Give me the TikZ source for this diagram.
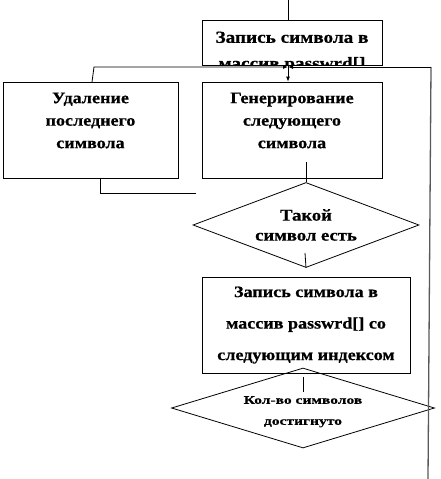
\documentclass[tikz,border=0pt]{standalone}
\usepackage{fontspec}
\setmainfont{Liberation Serif}
\newfontfamily\blokfont[FakeStretch=1.13,BoldFeatures={FakeBold=0.6}]{Liberation Serif}
\newfontfamily\kolfont[FakeStretch=1.35,BoldFeatures={FakeBold=0.6}]{Liberation Serif}
\usetikzlibrary{shapes.geometric,arrows.meta}

\begin{document}
\begin{tikzpicture}[x=1pt,y=-1pt,line width=0.8pt,
  blok/.style={draw,rectangle,inner sep=0pt},
  romb/.style={draw,diamond,inner sep=0pt,align=center},
  txt/.style={align=center,inner sep=0pt,font=\blokfont\bfseries\fontsize{16}{22.5}\selectfont},
  tip/.style={-{Latex[length=5pt,width=4pt]}}]
\useasboundingbox (0,0) rectangle (440,479);

\node[blok,minimum width=180pt,minimum height=45pt] (zap) at (292,42.5) {};
\node[blok,minimum width=175pt,minimum height=96pt] (del) at (90.5,130) {};
\node[blok,minimum width=180pt,minimum height=96pt] (gen) at (292,130) {};
\node[romb,aspect=2.66,minimum width=226pt,minimum height=85pt,font=\blokfont\bfseries\fontsize{16.5}{20}\selectfont] (est) at (306,225) {Такой\\символ есть};
\node[blok,minimum width=208pt,minimum height=96pt,align=center,font=\blokfont\bfseries\fontsize{16}{31.5}\selectfont] (zap2) at (306,325) {Запись символа в\\массив passwrd[] со\\следующим индексом};
\node[romb,aspect=3.29,minimum width=263pt,minimum height=80pt,font=\kolfont\bfseries\fontsize{11.5}{21}\selectfont] (kol) at (303,408) {\rule{0pt}{15pt}Кол-во символов\\достигнуто};

\node[txt] (del-t) at (90.5,120.5) {Удаление\\последнего\\символа};
\node[txt] (gen-t) at (292,120.5) {Генерирование\\следующего\\символа};
\begin{scope}
\clip (zap.south west) rectangle (zap.north east);
\node[txt,font=\blokfont\bfseries\fontsize{17}{26}\selectfont] (zap-t) at (292,52) {Запись символа в\\массив passwrd[]};
\end{scope}

\coordinate (top) at (288,0);
\coordinate (mid) at (288,67);
\coordinate (lv) at (92,82);
\coordinate (lh) at (94,67);
\coordinate (rb) at (428,479);
\coordinate (rt) at (431,67);
\coordinate (d2) at (196,193);
\coordinate (g1) at (306,162);
\coordinate (e1) at (305,253);
\coordinate (k1) at (303,377);
\coordinate (k2) at (303,392);

\draw (top) -- (top |- zap.north);
\draw[tip] (top |- zap.south) -- (top |- gen.north);
\draw[tip] (lv) -- (lh) -- (mid);
\draw[black!65,line width=1.3pt] (rb) -- (rt);
\draw[tip] (rt) -- (mid);
\draw ([xshift=9.5pt]del.south) |- (d2);
\draw (g1) -- (est.north);
\draw (e1) -- (est.south);
\draw (k1) -- (k2);
\end{tikzpicture}
\end{document}
